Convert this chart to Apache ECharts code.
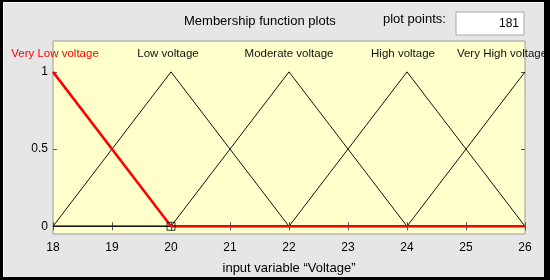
<!DOCTYPE html>
<html>
<head>
<meta charset="utf-8">
<script src="https://cdn.jsdelivr.net/npm/echarts@6/dist/echarts.min.js"></script>
<style>
  html, body { margin: 0; padding: 0; background: #e6e6e6; }
  #wrap { position: relative; width: 550px; height: 280px; }
  #chart { width: 550px; height: 280px; }
  #frame {
    position: absolute; left: 0; top: 0; width: 550px; height: 280px;
    box-sizing: border-box; border-style: solid; border-color: #000;
    border-width: 2px 6px 3px 3px; pointer-events: none;
    box-shadow: inset 1px 1px 0 #fafafa;
  }
</style>
</head>
<body>
<div id="wrap">
  <div id="chart"></div>
  <div id="frame"></div>
</div>
<script>
// x tick labels of the input variable
const xTicks = [18, 19, 20, 21, 22, 23, 24, 25, 26];
const yTicks = [0, 0.5, 1];

// membership functions (breakpoints)
const mfNames = ['Very Low voltage', 'Low voltage', 'Moderate voltage', 'High voltage', 'Very High voltage'];
const veryLowX = [18, 20, 26];
const veryLowY = [1, 0, 0];
const lowX = [18, 20, 22, 26];
const lowY = [0, 1, 0, 0];
const moderateX = [18, 20, 22, 24, 26];
const moderateY = [0, 0, 1, 0, 0];
const highX = [18, 22, 24, 26];
const highY = [0, 0, 1, 0];
const veryHighX = [18, 24, 26];
const veryHighY = [0, 0, 1];

// label anchor for each MF (peak position)
const labelX = [18, 20, 22, 24, 26];
const labelOffset = [[2, 0], [-3, 0], [0, 0], [-4, 0], [-23, 0]];

// currently selected point
const selX = [20];
const selY = [0];

const zip = (xs, ys) => xs.map((x, i) => [x, ys[i]]);

const chart = echarts.init(document.getElementById('chart'), null, { renderer: 'canvas' });

const fontFam = '"Liberation Sans", Arial, sans-serif';

function mfSeries(idx, xs, ys, color, width, z) {
    return {
        type: 'line',
        name: mfNames[idx],
        data: zip(xs, ys),
        showSymbol: false,
        silent: true,
        z: z,
        lineStyle: { color: color, width: width },
        markPoint: {
            symbol: 'circle',
            symbolSize: 0,
            silent: true,
            label: {
                show: true,
                position: 'inside',
                formatter: mfNames[idx],
                color: color,
                fontFamily: fontFam,
                fontSize: 11.5,
                offset: labelOffset[idx]
            },
            data: [{ coord: [labelX[idx], 1.115] }]
        }
    };
}

chart.setOption({
    backgroundColor: 'transparent',
    animation: false,
    textStyle: { fontFamily: fontFam },
    grid: {
        left: 53, right: 25, top: 41, bottom: 45,
        show: true, backgroundColor: '#ffffcc', borderColor: '#9a9a9a', borderWidth: 1
    },
    xAxis: [{
        type: 'value', min: 18, max: 26, interval: 1,
        position: 'bottom',
        name: 'input variable \u201cVoltage\u201d',
        nameLocation: 'middle', nameGap: 28,
        nameTextStyle: { color: '#000', fontSize: 13, fontFamily: fontFam },
        axisLine: { show: false },
        axisTick: { inside: true, length: 4, lineStyle: { color: '#555' } },
        axisLabel: { color: '#000', fontSize: 12, margin: 8, fontFamily: fontFam },
        splitLine: { show: false }
    }, {
        type: 'value', min: 18, max: 26, interval: 1,
        position: 'top',
        axisLine: { show: false },
        axisTick: { inside: true, length: 4, lineStyle: { color: '#555' } },
        axisLabel: { show: false },
        splitLine: { show: false }
    }],
    yAxis: [{
        type: 'value', min: -0.05, max: 1.2,
        axisLine: { show: false },
        axisTick: { inside: true, length: 4, customValues: yTicks, lineStyle: { color: '#555' } },
        axisLabel: { customValues: yTicks, color: '#000', fontSize: 12, margin: 5, fontFamily: fontFam },
        splitLine: { show: false }
    }, {
        type: 'value', min: -0.05, max: 1.2, position: 'right',
        axisLine: { show: false },
        axisTick: { inside: true, length: 4, customValues: yTicks, lineStyle: { color: '#555' } },
        axisLabel: { show: false },
        splitLine: { show: false }
    }],
    graphic: [
        {
            type: 'text', left: 184, top: 15,
            style: { text: 'Membership function plots', font: '13px ' + fontFam, fill: '#000' }
        },
        {
            type: 'text', left: 383, top: 13,
            style: { text: 'plot points:', font: '13px ' + fontFam, fill: '#000' }
        },
        {
            type: 'rect', shape: { x: 456, y: 12, width: 68, height: 23 },
            style: { fill: '#fff', stroke: '#a8a8a8', lineWidth: 1 }
        },
        {
            type: 'text', right: 31, top: 18,
            style: { text: '181', font: '12px ' + fontFam, fill: '#000' }
        }
    ],
    series: [
        mfSeries(1, lowX, lowY, '#111', 1, 2),
        mfSeries(2, moderateX, moderateY, '#111', 1, 2),
        mfSeries(3, highX, highY, '#111', 1, 2),
        mfSeries(4, veryHighX, veryHighY, '#111', 1, 2),
        mfSeries(0, veryLowX, veryLowY, '#ff0000', 2.5, 3),
        {
            type: 'scatter',
            data: zip(selX, selY),
            symbol: 'rect',
            symbolSize: 8,
            silent: true,
            z: 4,
            itemStyle: { color: 'rgba(0,0,0,0)', borderColor: '#000', borderWidth: 1 }
        }
    ]
});
</script>
</body>
</html>
